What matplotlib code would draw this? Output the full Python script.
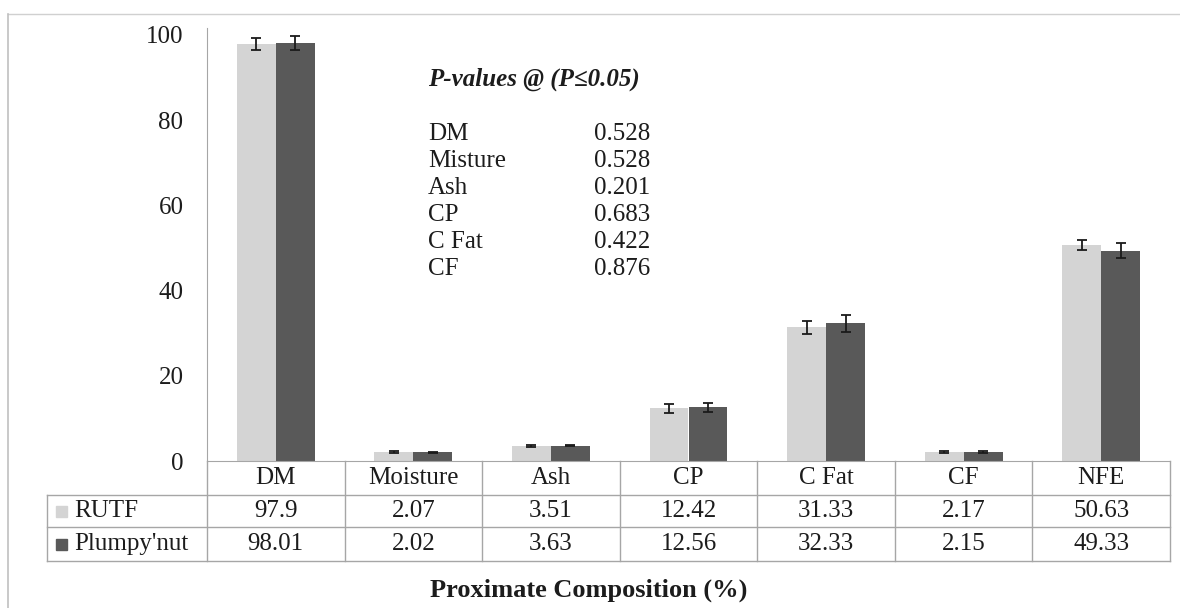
import numpy as np
import matplotlib
matplotlib.use("Agg")
import matplotlib.pyplot as plt
import matplotlib.transforms as mtransforms
from matplotlib.lines import Line2D
from matplotlib.patches import Rectangle

plt.rcParams["font.family"] = ["Liberation Serif", "DejaVu Serif"]

# ---- data ----
categories = ["DM", "Moisture", "Ash", "CP", "C Fat", "CF", "NFE"]
series = ["RUTF", "Plumpy'nut"]
rutf = [97.9, 2.07, 3.51, 12.42, 31.33, 2.17, 50.63]
plumpy = [98.01, 2.02, 3.63, 12.56, 32.33, 2.15, 49.33]
rutf_err = [1.4, 0.2, 0.2, 1.05, 1.5, 0.2, 1.2]
plumpy_err = [1.6, 0.2, 0.2, 1.0, 2.0, 0.2, 1.8]
pval_names = ["DM", "Misture", "Ash", "CP", "C Fat", "CF"]
pval_values = ["0.528", "0.528", "0.201", "0.683", "0.422", "0.876"]
yticks = [0, 20, 40, 60, 80, 100]

LIGHT = "#d4d4d4"
DARK = "#595959"
GRID = "#a6a6a6"
TXT = "#1c1c1c"
FS = 18

W, H = 1180, 608
fig = plt.figure(figsize=(W / 100, H / 100), dpi=100)


def fy(py):
    return 1 - py / H


# ---- outer frame ----
fig.add_artist(Line2D([8 / W, 1], [fy(14), fy(14)], color="#d0d0d0", lw=1))
fig.add_artist(Line2D([8 / W, 8 / W], [0, fy(14)], color="#c0c0c0", lw=1.2))

# ---- bars ----
ax = fig.add_axes([207 / W, fy(461), (1170 - 207) / W, (461 - 28) / H])
x = np.arange(len(categories))
w = 0.283
ekw = dict(ecolor="#1a1a1a", elinewidth=1.3, capthick=1.3)
ax.bar(x - w / 2, rutf, w, yerr=rutf_err, color=LIGHT, capsize=3.6, error_kw=ekw)
ax.bar(x + w / 2, plumpy, w, yerr=plumpy_err, color=DARK, capsize=3.6, error_kw=ekw)
ax.set_xlim(-0.5, len(categories) - 0.5)
ax.set_ylim(0, 101.6)
ax.set_yticks(yticks)
ax.set_xticks([])
ax.tick_params(axis="y", length=0, pad=17, labelsize=FS, labelcolor=TXT)
for s in ["top", "right"]:
    ax.spines[s].set_visible(False)
ax.spines["left"].set_color(GRID)
ax.spines["bottom"].set_color(GRID)

# ---- data table below the axis ----
tr = mtransforms.blended_transform_factory(ax.transData, fig.transFigure)
rows = [461, 495, 527, 561]
x_left, x_right = 47 / W, 1170 / W
for r in rows[1:]:
    fig.add_artist(Line2D([x_left, x_right], [fy(r), fy(r)], color=GRID, lw=1))
for k in range(len(categories) + 1):
    fig.add_artist(Line2D([k - 0.5, k - 0.5], [fy(rows[0]), fy(rows[-1])],
                          color=GRID, lw=1, transform=tr))
fig.add_artist(Line2D([x_left, x_left], [fy(rows[1]), fy(rows[-1])], color=GRID, lw=1))

for i, cat in enumerate(categories):
    yc = [(rows[j] + rows[j + 1]) / 2 for j in range(3)]
    ax.text(i, fy(yc[0]), cat, transform=tr, ha="center", va="center",
            fontsize=FS, color=TXT)
    ax.text(i, fy(yc[1]), f"{rutf[i]:g}", transform=tr, ha="center", va="center",
            fontsize=FS, color=TXT)
    ax.text(i, fy(yc[2]), f"{plumpy[i]:g}", transform=tr, ha="center", va="center",
            fontsize=FS, color=TXT)

for j, (name, col) in enumerate(zip(series, [LIGHT, DARK])):
    yc = (rows[j + 1] + rows[j + 2]) / 2
    fig.add_artist(Rectangle((56 / W, fy(yc + 6)), 11 / W, 11 / H, color=col))
    fig.text(74 / W, fy(yc), name, ha="left", va="center", fontsize=FS, color=TXT)

# ---- p-value annotation ----
fig.text(428 / W, fy(79), "P-values @ (P\u22640.05)", fontsize=FS,
         fontweight="bold", fontstyle="italic", ha="left", va="center", color=TXT)
for i, (n, v) in enumerate(zip(pval_names, pval_values)):
    yy = 134 + i * 27
    fig.text(428 / W, fy(yy), n, fontsize=FS, ha="left", va="center", color=TXT)
    fig.text(594 / W, fy(yy), v, fontsize=FS, ha="left", va="center", color=TXT)

# ---- axis title ----
fig.text(589 / W, fy(590), "Proximate Composition (%)", fontsize=19,
         fontweight="bold", ha="center", va="center", color=TXT)

fig.savefig("out.png", dpi=100)
